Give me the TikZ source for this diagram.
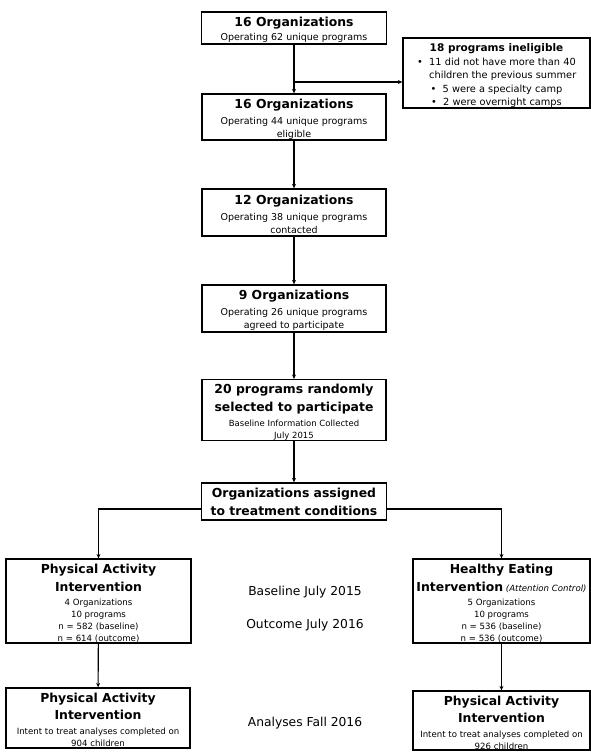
\documentclass[tikz,border=0pt]{standalone}
\usepackage{fontspec}
\setmainfont{DejaVu Sans}
\usetikzlibrary{arrows.meta,calc}
\newcommand\tfont{\fontsize{12.4}{14}\selectfont\bfseries}
\newcommand\dn{\rule{0pt}{13.8pt}}
\begin{document}
\begin{tikzpicture}[x=1pt,y=-1pt,
  box/.style={draw=black, line width=1.3pt, align=center, inner sep=0pt, fill=white, text=black},
  arr/.style={line width=1.1pt, -{Stealth[length=4.5pt,width=4pt]}},
  lbl/.style={font=\fontsize{12.3}{14}\selectfont, text=black}]
\useasboundingbox (0,0) rectangle (591,753);
\fill[white] (0,0) rectangle (591,753);

\node[box, minimum width=185pt, minimum height=32pt, font=\fontsize{9.5}{13}\selectfont] (b1) at (294,28)
  {\dn{\tfont 16 Organizations}\\[1pt]Operating 62 unique programs};
\node[box, minimum width=187pt, minimum height=70pt, font=\fontsize{9.8}{13.5}\selectfont] (side) at (496.5,73)
  {\dn{\fontsize{10.5}{13.5}\selectfont\bfseries 18 programs ineligible}\\
   •\ \ 11 did not have more than 40\\
   \ \ \ \ children the previous summer\\
   •\ \ 5 were a specialty camp\\
   •\ \ 2 were overnight camps};
\node[box, minimum width=184pt, minimum height=46pt, font=\fontsize{9.5}{13}\selectfont] (b2) at (294,117)
  {\dn{\tfont 16 Organizations}\\[3pt]Operating 44 unique programs\\eligible};
\node[box, minimum width=184pt, minimum height=47pt, font=\fontsize{9.5}{13}\selectfont] (b3) at (294,212.5)
  {\dn{\tfont 12 Organizations}\\[3pt]Operating 38 unique programs\\contacted};
\node[box, minimum width=184pt, minimum height=47pt, font=\fontsize{9.5}{13}\selectfont] (b4) at (294,308.5)
  {\dn{\tfont 9 Organizations}\\[3pt]Operating 26 unique programs\\agreed to participate};
\node[box, minimum width=184pt, minimum height=60pt, font=\fontsize{8.5}{12}\selectfont] (b5) at (294,410)
  {\dn{\tfont 20 programs randomly}\\[5pt]{\tfont selected to participate}\\[3pt]Baseline Information Collected\\July 2015};
\node[box, minimum width=185pt, minimum height=37pt, font=\fontsize{8.5}{12}\selectfont] (b6) at (294,501.5)
  {{\tfont Organizations assigned}\\[5pt]{\tfont to treatment conditions}};

\node[box, minimum width=185pt, minimum height=84pt, font=\fontsize{8.6}{12}\selectfont] (pa) at (98.5,601)
  {\dn{\tfont Physical Activity}\\[5pt]{\tfont Intervention}\\[2pt]4 Organizations\\10 programs\\n = 582 (baseline)\\n = 614 (outcome)};
\node[box, minimum width=177pt, minimum height=84pt, font=\fontsize{8.6}{12}\selectfont] (he) at (501.5,601)
  {\dn{\tfont Healthy Eating}\\[5pt]{\tfont Intervention} {\fontsize{8.6}{12}\selectfont\itshape (Attention Control)}\\[2pt]5 Organizations\\10 programs\\n = 536 (baseline)\\n = 536 (outcome)};

\node[box, minimum width=184pt, minimum height=60pt, font=\fontsize{8.6}{12}\selectfont] (pa2) at (98,718)
  {\dn{\tfont Physical Activity}\\[4pt]{\tfont Intervention}\\[3pt]Intent to treat analyses completed on\\904 children};
\node[box, minimum width=177pt, minimum height=59pt, font=\fontsize{8.6}{12}\selectfont] (he2) at (501.5,720.5)
  {\dn{\tfont Physical Activity}\\[4pt]{\tfont Intervention}\\[3pt]Intent to treat analyses completed on\\926 children};

\node[lbl] (t1) at (305,592) {Baseline July 2015};
\node[lbl] (t2) at (305,625) {Outcome July 2016};
\node[lbl] (t3) at (305,723) {Analyses Fall 2016};

\coordinate (br) at (b1.south |- 0,82);
\draw[arr] (b1) -- (b2);
\draw[arr] (br) -- (side.west |- br);
\draw[arr] (b2) -- (b3);
\draw[arr] (b3) -- (b4);
\draw[arr] (b4) -- (b5);
\draw[arr] (b5) -- (b6);
\draw[arr] ($(b6.west)+(0,7.5)$) -| (pa.north);
\draw[arr] ($(b6.east)+(0,7.5)$) -| (he.north);
\draw[arr] (pa) -- (pa2);
\draw[arr] (he) -- (he2);
\end{tikzpicture}
\end{document}
